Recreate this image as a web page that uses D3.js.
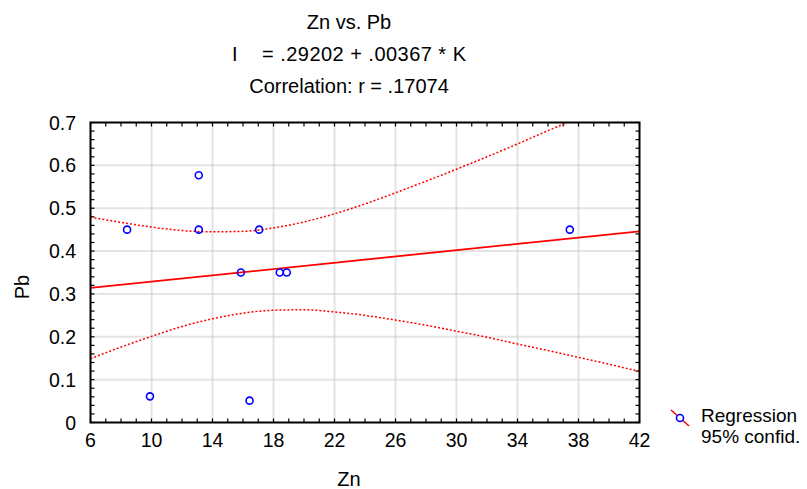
<!DOCTYPE html>
<html><head><meta charset="utf-8">
<script src="https://cdn.jsdelivr.net/npm/d3@7"></script>
<style>
body{margin:0;background:#fff;}
text{font-family:"Liberation Sans",Arial,sans-serif;fill:#000;}
</style></head>
<body>
<svg id="chart" width="807" height="489"></svg>
<script>
// ---- data ----
const zn = [8.4, 9.9, 13.1, 13.1, 15.86, 16.43, 17.06, 18.41, 18.87, 37.43];
const pb = [0.45, 0.061, 0.45, 0.577, 0.35, 0.051, 0.45, 0.35, 0.35, 0.45];
const intercept = 0.29202, slope = 0.00367;
const bandX = [6,8,10,12,14,16,18,20,22,24,26,28,30,32,34,36,38,40,42];
const upper = [0.479,0.467,0.456,0.448,0.445,0.446,0.454,0.468,0.487,0.510,0.536,0.563,0.591,0.620,0.650,0.681,0.711,0.742,0.773];
const lower = [0.149,0.176,0.201,0.224,0.242,0.255,0.262,0.263,0.258,0.250,0.239,0.227,0.213,0.199,0.183,0.168,0.152,0.136,0.119];
const xTicks = [6,10,14,18,22,26,30,34,38,42];
const yTicks = [0,0.1,0.2,0.3,0.4,0.5,0.6,0.7];
const titleLines = ["Zn vs. Pb", "Correlation: r = .17074"];
const eqLabel = "I", eqText = "= .29202 + .00367 * K";
const legendItems = ["Regression", "95% confid."];

const svg = d3.select("#chart");
const L = 90.5, R = 639.5, T = 122.5, B = 422.5;
const x = d3.scaleLinear().domain([6,42]).range([L,R]);
const y = d3.scaleLinear().domain([0,0.7]).range([B,T]);
const FS = 20, TFS = 19.5;

// titles
svg.append("text").attr("x",349).attr("y",29).attr("text-anchor","middle").attr("font-size",FS).text(titleLines[0]);
svg.append("text").attr("x",232).attr("y",61).attr("font-size",FS).text(eqLabel);
svg.append("text").attr("x",262).attr("y",61).attr("font-size",FS).attr("textLength",204).attr("lengthAdjust","spacing").text(eqText);
svg.append("text").attr("x",349).attr("y",93).attr("text-anchor","middle").attr("font-size",FS).text(titleLines[1]);

// clip
svg.append("clipPath").attr("id","clip").append("rect").attr("x",L).attr("y",T).attr("width",R-L).attr("height",B-T);

// grid
const grid = svg.append("g").attr("stroke","#c8c8c8").attr("stroke-width",2).attr("stroke-dasharray","1,1");
xTicks.slice(1,-1).forEach(v=>grid.append("line").attr("x1",x(v)).attr("x2",x(v)).attr("y1",T).attr("y2",B));
yTicks.slice(1,-1).forEach(v=>grid.append("line").attr("x1",L).attr("x2",R).attr("y1",y(v)).attr("y2",y(v)));

// minor/major ticks inward
const tk = svg.append("g").attr("stroke","#000").attr("stroke-width",1.2);
d3.range(6,42.01,1).forEach(v=>{
  tk.append("line").attr("x1",x(v)).attr("x2",x(v)).attr("y1",B).attr("y2",B-4);
  tk.append("line").attr("x1",x(v)).attr("x2",x(v)).attr("y1",T).attr("y2",T+4);
});
d3.range(0,0.7001,0.02).forEach(v=>{
  tk.append("line").attr("x1",L).attr("x2",L+4).attr("y1",y(v)).attr("y2",y(v));
  tk.append("line").attr("x1",R).attr("x2",R-4).attr("y1",y(v)).attr("y2",y(v));
});

// tick labels
xTicks.forEach(v=>svg.append("text").attr("x",x(v)).attr("y",447).attr("text-anchor","middle").attr("font-size",TFS).text(v));
yTicks.forEach(v=>svg.append("text").attr("x",76).attr("y",y(v)+7).attr("text-anchor","end").attr("font-size",TFS).text(v===0?"0":String(v)));

// axis titles
svg.append("text").attr("transform","translate(29,287) rotate(-90)").attr("text-anchor","middle").attr("font-size",FS).text("Pb");
svg.append("text").attr("x",349).attr("y",486).attr("text-anchor","middle").attr("font-size",FS).text("Zn");

// curves
const plot = svg.append("g").attr("clip-path","url(#clip)");
const line = d3.line().x(d=>x(d[0])).y(d=>y(d[1])).curve(d3.curveMonotoneX);
plot.append("path").attr("d",line(bandX.map((v,i)=>[v,upper[i]]))).attr("fill","none").attr("stroke","#ff0000").attr("stroke-width",1.5).attr("stroke-dasharray","2,2");
plot.append("path").attr("d",line(bandX.map((v,i)=>[v,lower[i]]))).attr("fill","none").attr("stroke","#ff0000").attr("stroke-width",1.5).attr("stroke-dasharray","2,2");
plot.append("line").attr("x1",x(6)).attr("y1",y(intercept+slope*6)).attr("x2",x(42)).attr("y2",y(intercept+slope*42)).attr("stroke","#ff0000").attr("stroke-width",1.8);

// points
svg.append("g").selectAll("circle").data(zn).join("circle")
  .attr("cx",d=>x(d)).attr("cy",(d,i)=>y(pb[i])).attr("r",3.5)
  .attr("fill","none").attr("stroke","#0000ff").attr("stroke-width",1.6);

// frame
svg.append("rect").attr("x",L).attr("y",T).attr("width",R-L).attr("height",B-T).attr("fill","none").attr("stroke","#000").attr("stroke-width",2);

// legend
svg.append("line").attr("x1",671).attr("y1",410).attr("x2",689).attr("y2",426).attr("stroke","#ff0000").attr("stroke-width",1.5);
svg.append("circle").attr("cx",680).attr("cy",418).attr("r",3.5).attr("fill","#fff").attr("stroke","#0000ff").attr("stroke-width",1.6);
svg.append("text").attr("x",701).attr("y",422).attr("font-size",19).text(legendItems[0]);
svg.append("text").attr("x",701).attr("y",443).attr("font-size",19).text(legendItems[1]);
</script>
</body></html>
